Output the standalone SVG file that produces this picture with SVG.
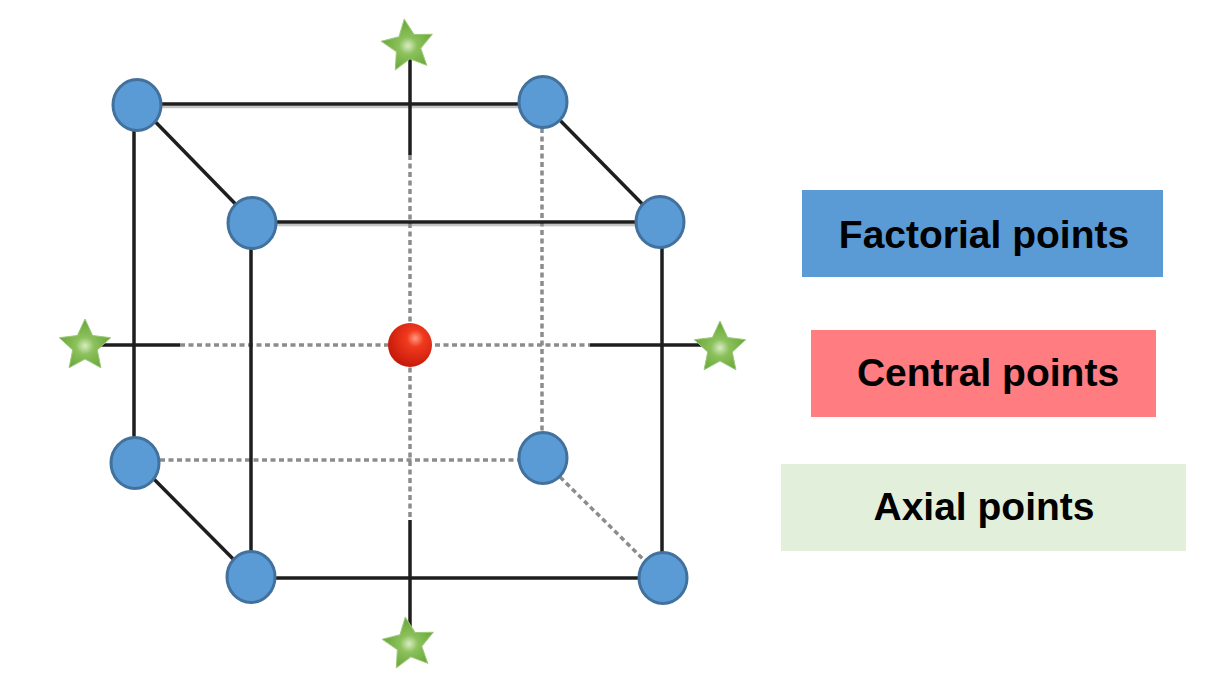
<svg xmlns="http://www.w3.org/2000/svg" width="1209" height="673" viewBox="0 0 1209 673">
  <style>
    .edge { stroke: #1e1e1e; stroke-width: 3.5; fill: none; stroke-linecap: butt; }
    .shadow { stroke: #c4c4c4; stroke-width: 2.5; fill: none; }
    .hidden { stroke: #8c8c8c; stroke-width: 3.5; fill: none; stroke-dasharray: 5 3.5; }
    .factorial { fill: #5b9bd5; stroke: #41719c; stroke-width: 3; }
    .axial { fill: url(#starGrad); stroke: #9cc87a; stroke-width: 1; stroke-linejoin: round; }
    .label { font-family: "Liberation Sans", Arial, sans-serif; font-weight: bold; font-size: 39px; fill: #000; text-anchor: middle; }
  </style>
  <defs>
    <radialGradient id="starGrad" cx="0.5" cy="0.55" r="0.5">
      <stop offset="0" stop-color="#d8ecc4"/>
      <stop offset="0.35" stop-color="#8cc15c"/>
      <stop offset="1" stop-color="#6aa83a"/>
    </radialGradient>
    <radialGradient id="ballGrad" cx="0.62" cy="0.35" r="0.65">
      <stop offset="0" stop-color="#ff9a80"/>
      <stop offset="0.3" stop-color="#f03a1e"/>
      <stop offset="1" stop-color="#c81a0a"/>
    </radialGradient>
    <polygon id="star" points="0,-27 7.6,-10.5 25.7,-8.3 12.3,4 15.9,21.8 0,13 -15.9,21.8 -12.3,4 -25.7,-8.3 -7.6,-10.5"/>
  </defs>

  <rect width="1209" height="673" fill="#ffffff"/>

  <!-- connectors: cube edges and axes -->
  <g id="connectors">
    <!-- soft shadows under the solid edges -->
    <g class="shadow">
      <line x1="160" y1="107" x2="520" y2="107"/>
      <line x1="276" y1="225" x2="636" y2="225"/>
    </g>
    <!-- hidden (back) edges -->
    <line class="hidden" x1="542" y1="128" x2="542" y2="432"/>
    <line class="hidden" x1="160" y1="460" x2="518" y2="460"/>
    <line class="hidden" x1="560" y1="477" x2="644" y2="560"/>
    <!-- axes through the centre -->
    <line class="hidden" x1="410" y1="155" x2="410" y2="520"/>
    <line class="hidden" x1="180" y1="345" x2="590" y2="345"/>
    <!-- visible edges -->
    <line class="edge" x1="138" y1="104" x2="542" y2="104"/>
    <line class="edge" x1="253" y1="222" x2="660" y2="222"/>
    <line class="edge" x1="251" y1="578" x2="662" y2="578"/>
    <line class="edge" x1="134" y1="104" x2="134" y2="462"/>
    <line class="edge" x1="251" y1="222" x2="251" y2="577"/>
    <line class="edge" x1="662" y1="222" x2="662" y2="578"/>
    <line class="edge" x1="138" y1="104" x2="253" y2="222"/>
    <line class="edge" x1="542" y1="102" x2="660" y2="222"/>
    <line class="edge" x1="137" y1="462" x2="251" y2="577"/>
    <!-- solid axis ends -->
    <line class="edge" x1="410" y1="55" x2="410" y2="155"/>
    <line class="edge" x1="410" y1="520" x2="410" y2="630"/>
    <line class="edge" x1="100" y1="345" x2="180" y2="345"/>
    <line class="edge" x1="590" y1="345" x2="705" y2="345"/>
  </g>

  <!-- factorial points (cube corners) -->
  <g id="factorial-back-top-left"><ellipse class="factorial" cx="137" cy="105" rx="24" ry="25.5"/></g>
  <g id="factorial-back-top-right"><ellipse class="factorial" cx="543" cy="102" rx="24" ry="25.5"/></g>
  <g id="factorial-front-top-left"><ellipse class="factorial" cx="252" cy="223" rx="24" ry="25.5"/></g>
  <g id="factorial-front-top-right"><ellipse class="factorial" cx="660" cy="222" rx="24" ry="25.5"/></g>
  <g id="factorial-back-bottom-left"><ellipse class="factorial" cx="135" cy="463" rx="24" ry="25.5"/></g>
  <g id="factorial-back-bottom-right"><ellipse class="factorial" cx="543" cy="458" rx="24" ry="25.5"/></g>
  <g id="factorial-front-bottom-left"><ellipse class="factorial" cx="251" cy="577" rx="24" ry="25.5"/></g>
  <g id="factorial-front-bottom-right"><ellipse class="factorial" cx="663" cy="578" rx="24" ry="25.5"/></g>

  <!-- central point -->
  <g id="central-point"><circle cx="410" cy="345" r="22" fill="url(#ballGrad)"/></g>

  <!-- axial points -->
  <g id="axial-top"><use href="#star" class="axial" transform="translate(408,46) rotate(-8)"/></g>
  <g id="axial-bottom"><use href="#star" class="axial" transform="translate(409,644) rotate(-8)"/></g>
  <g id="axial-left"><use href="#star" class="axial" transform="translate(85,346)"/></g>
  <g id="axial-right"><use href="#star" class="axial" transform="translate(720,348)"/></g>

  <!-- legend -->
  <g id="legend-factorial">
    <rect x="802" y="190" width="361" height="87" fill="#5b9bd5"/>
    <text class="label" x="984" y="248">Factorial points</text>
  </g>
  <g id="legend-central">
    <rect x="811" y="330" width="345" height="87" fill="#ff7c80"/>
    <text class="label" x="988" y="386">Central points</text>
  </g>
  <g id="legend-axial">
    <rect x="781" y="464" width="405" height="87" fill="#e2efda"/>
    <text class="label" x="984" y="520">Axial points</text>
  </g>
</svg>
